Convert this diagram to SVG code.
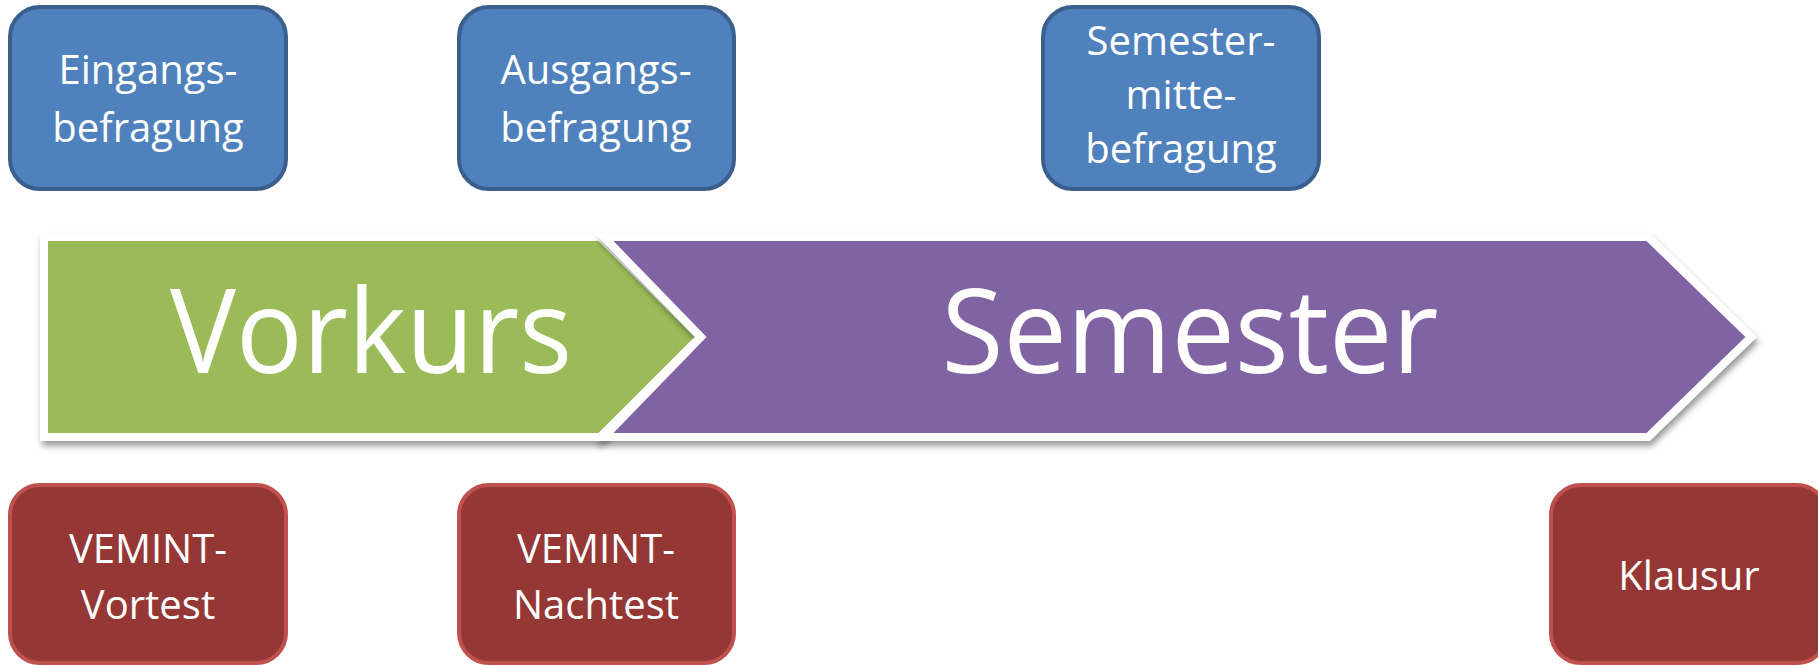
<svg xmlns="http://www.w3.org/2000/svg" width="1818" height="665" viewBox="0 0 1818 665">
<defs>
<filter id="sh" x="-5%" y="-20%" width="110%" height="140%">
<feDropShadow dx="2" dy="5" stdDeviation="3" flood-color="#000" flood-opacity="0.4"/>
</filter>
<style>
.blue{fill:#4f81bd;stroke:#3a5f8c;stroke-width:4}
.red{fill:#953735;stroke:#c0504d;stroke-width:4}
.t{font-family:"Open Sans","Noto Sans",sans-serif;fill:#fff;text-anchor:middle}
.s{font-size:40px}
.b{font-size:118px}
.arr{stroke:#fff;stroke-width:8;stroke-linejoin:miter}
</style>
</defs>
<rect width="1818" height="665" fill="#fff"/>
<g id="vorkurs">
<path class="arr" filter="url(#sh)" d="M44,237 H600 L700,337 L600,437 H44 Z" fill="#9bbb59"/>
<text class="t b" x="371" y="373" textLength="402" lengthAdjust="spacingAndGlyphs">Vorkurs</text>
</g>
<g id="semester">
<path class="arr" filter="url(#sh)" d="M604,237 H1648 L1751,337 L1648,437 H604 L701,337 Z" fill="#8064a2"/>
<text class="t b" x="1190" y="373" textLength="497" lengthAdjust="spacingAndGlyphs">Semester</text>
</g>
<g id="eingang">
<rect class="blue" x="10" y="7" width="276" height="182" rx="30"/>
<text class="t s" x="148" y="84">Eingangs-</text>
<text class="t s" x="148" y="142">befragung</text>
</g>
<g id="ausgang">
<rect class="blue" x="459" y="7" width="275" height="182" rx="30"/>
<text class="t s" x="596" y="84">Ausgangs-</text>
<text class="t s" x="596" y="142">befragung</text>
</g>
<g id="mitte">
<rect class="blue" x="1043" y="7" width="276" height="182" rx="30"/>
<text class="t s" x="1181" y="55">Semester-</text>
<text class="t s" x="1181" y="109">mitte-</text>
<text class="t s" x="1181" y="163">befragung</text>
</g>
<g id="vortest">
<rect class="red" x="10" y="485" width="276" height="178" rx="30"/>
<text class="t s" x="148" y="563">VEMINT-</text>
<text class="t s" x="148" y="619">Vortest</text>
</g>
<g id="nachtest">
<rect class="red" x="459" y="485" width="275" height="178" rx="30"/>
<text class="t s" x="596" y="563">VEMINT-</text>
<text class="t s" x="596" y="619">Nachtest</text>
</g>
<g id="klausur">
<rect class="red" x="1551" y="485" width="276" height="178" rx="30"/>
<text class="t s" x="1689" y="590">Klausur</text>
</g>
<g id="connectors"/>
</svg>
